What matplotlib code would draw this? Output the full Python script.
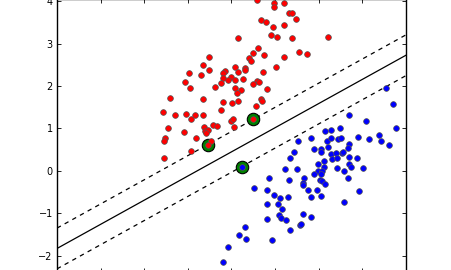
import numpy as np
from matplotlib import pyplot as plt

# points (class 1 = red, class 2 = blue)
red_x = [0.59, 0.98, 0.98, 1.21, 1.31, 1.39, 1.47, 0.67, 0.79, 0.95, 1.21, 0.90, 1.04, 0.14,
         1.38, 1.55, 0.60, 0.50, 0.75, -0.51, 0.39, 0.45, 1.21, -0.66, -0.52, -0.97, 0.08,
         0.32, 0.30, 1.01, -0.14, -0.19, 0.16, 0.72, -0.70, -0.02, -0.20, -0.08, 0.08, 0.27,
         0.58, 0.64, 0.50, -1.06, -0.23, -0.38, -0.95, 0.09, 0.22, 0.13, 0.81, -1.42, -0.66,
         -0.19, 0.01, 0.16, 0.67, 0.69, 0.56, -1.58, -0.24, -1.29, -1.04, -0.84, -0.66, -0.93,
         0.50, 0.00, 0.04, -1.46, -1.09, -0.63, -0.61, -0.53, -0.58, -0.42, -0.34, 0.06, -1.52,
         -1.54, -0.82, -0.47, -0.54, -0.93, -1.55, 1.73, 2.22]
red_y = [4.02, 3.95, 3.87, 3.96, 3.73, 3.72, 3.57, 3.55, 3.52, 3.39, 3.43, 3.20, 3.16, 3.14,
         3.14, 2.79, 2.89, 2.77, 2.73, 2.69, 2.65, 2.59, 2.68, 2.49, 2.38, 2.31, 2.44,
         2.43, 2.37, 2.45, 2.35, 2.30, 2.34, 2.34, 2.25, 2.22, 2.20, 2.15, 2.14, 2.16,
         2.11, 2.09, 2.04, 2.09, 2.06, 1.98, 1.95, 1.95, 1.91, 1.84, 1.92, 1.71, 1.69,
         1.62, 1.59, 1.65, 1.69, 1.65, 1.53, 1.39, 1.43, 1.31, 1.34, 1.31, 1.32, 1.22,
         1.22, 1.18, 1.22, 1.00, 0.91, 1.03, 0.94, 0.96, 0.89, 1.08, 1.06, 1.03, 0.77,
         0.71, 0.77, 0.71, 0.61, 0.46, 0.30, 2.75, 3.15]

blue_x = [0.24, 1.52, 1.44, 1.33, 1.23, 1.50, 0.85, 1.31, 0.52, 0.82, 0.98, 1.11, 1.29, 0.82,
          1.06, 1.15, 1.10, 1.14, 1.25, 0.81, 1.57, 1.34, 0.31, 0.18, 0.34, 0.92, -0.09,
          -0.19, 3.54, 3.71, 2.70, 3.09, 2.48, 3.78, 2.15, 2.28, 3.39, 1.83, 2.19, 2.28,
          2.44, 2.51, 2.89, 3.16, 3.42, 3.61, 2.70, 2.68, 2.22, 1.88, 2.05, 2.05, 2.28,
          2.40, 2.53, 2.55, 2.31, 2.42, 2.70, 2.87, 1.99, 2.13, 2.70, 2.74, 2.13, 2.42,
          3.01, 1.99, 2.08, 2.57, 1.89, 2.05, 2.02, 2.08, 2.66, 1.67, 1.65, 1.64, 2.15,
          1.76, 1.97, 2.93, 1.82, 2.05, 2.58, 1.63, 1.83, 1.60]
blue_y = [0.09, 0.71, 0.44, 0.30, 0.04, 0.04, -0.17, -0.21, -0.41, -0.46, -0.56, -0.63, -0.62,
          -0.78, -0.78, -0.89, -1.03, -1.11, -1.15, -1.13, -1.27, -1.40, -1.31, -1.52, -1.61,
          -1.63, -1.78, -2.15, 1.95, 1.58, 1.31, 1.17, 1.02, 1.02, 0.93, 0.96, 0.85, 0.78,
          0.71, 0.78, 0.75, 0.77, 0.79, 0.75, 0.71, 0.61, 0.63, 0.55, 0.57, 0.52, 0.52,
          0.45, 0.40, 0.43, 0.42, 0.45, 0.28, 0.31, 0.32, 0.31, 0.16, 0.24, 0.16, 0.09,
          0.09, 0.06, 0.08, 0.00, 0.01, 0.00, -0.08, -0.08, -0.21, -0.24, -0.16, -0.17,
          -0.29, -0.33, -0.31, -0.45, -0.45, -0.48, -0.61, -0.58, -0.72, -1.02, -1.08, -1.25]

sv_x = [0.50, -0.54, 0.24]
sv_y = [1.22, 0.61, 0.09]

# separating line y = slope*x + intercept, margins +- margin
slope = 0.569
intercept = 0.45
margin = 0.48

fig = plt.figure(figsize=(4.51, 2.70), dpi=100)
ax = fig.add_axes([57 / 451, -2 / 270, 349 / 451, 273 / 270])

xx = np.linspace(-4, 4, 50)
yy = slope * xx + intercept
ax.plot(xx, yy, 'k-', lw=0.9)
ax.plot(xx, yy + margin, 'k--', lw=0.9, dashes=(3.5, 3.5))
ax.plot(xx, yy - margin, 'k--', lw=0.9, dashes=(3.5, 3.5))

ax.scatter(sv_x, sv_y, s=80, c='green', edgecolors='black', linewidths=0.8, zorder=3)
ax.scatter(red_x, red_y, s=17, c='red', edgecolors='#555555', linewidths=0.5, zorder=4)
ax.scatter(blue_x, blue_y, s=17, c='blue', edgecolors='#555555', linewidths=0.5, zorder=4)

ax.set_xlim(-4, 4)
ax.set_ylim(-2.38, 4.05)
ax.set_xticks(np.arange(-4, 5, 1))
ax.set_yticks(np.arange(-2, 5, 1))
ax.set_xticklabels([])
ax.tick_params(direction='in', length=3, width=0.6, top=True, right=True,
               labelsize=7, pad=3)
for sp in ax.spines.values():
    sp.set_linewidth(1.0)

fig.savefig('out.png', dpi=100)
